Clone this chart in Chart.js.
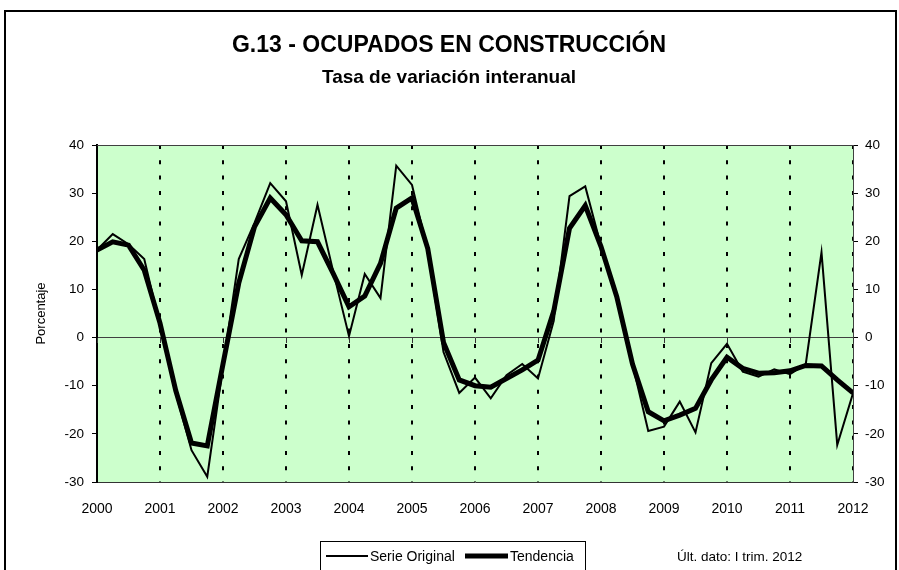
<!DOCTYPE html>
<html>
<head>
<meta charset="utf-8">
<script src="https://cdn.jsdelivr.net/npm/chart.js@4.4.1/dist/chart.umd.min.js"></script>
<style>
  html, body { margin: 0; padding: 0; background: #fff; }
  #wrap { position: relative; width: 899px; height: 570px; }
</style>
</head>
<body>
<div id="wrap"><canvas id="c" width="899" height="570"></canvas></div>
<script>
// ---- data ----
const yearLabels = ["2000","2001","2002","2003","2004","2005","2006","2007","2008","2009","2010","2011","2012"];
const startYear = 2000;
const quartersPerYear = 4;
const serieOriginal = [
  18.2, 21.5, 19.4, 16.3,
  2.5, -11.5, -23.4, -28.9,
  -6.0, 16.3, 23.8, 32.1,
  28.3, 13.0, 27.6, 13.7,
  0.3, 13.2, 8.2, 35.7,
  31.7, 18.0, -3.0, -11.5,
  -8.3, -12.6, -7.8, -5.5,
  -8.5, 3.5, 29.4, 31.4,
  19.0, 8.0, -5.5, -19.4,
  -18.5, -13.3, -19.7, -5.3,
  -1.3, -7.1, -8.1, -6.6,
  -7.6, -5.5, 17.7, -22.3,
  -11.6
];
const tendencia = [
  18.2, 19.9, 19.2, 14.0,
  3.0, -11.0, -21.9, -22.5,
  -5.5, 11.3, 23.0, 29.0,
  25.5, 20.1, 19.9, 13.3,
  6.4, 8.6, 15.4, 26.9,
  29.0, 18.5, -1.0, -8.8,
  -10.0, -10.3, -8.5, -6.7,
  -4.7, 5.5, 22.7, 27.4,
  18.9, 8.5, -5.5, -15.4,
  -17.3, -16.1, -14.7, -8.8,
  -4.1, -6.4, -7.4, -7.3,
  -6.9, -5.8, -5.9, -8.8,
  -11.5
];
const yMin = -30, yMax = 40, yStep = 10;
const titleText = "G.13 - OCUPADOS EN CONSTRUCCIÓN";
const subtitleText = "Tasa de variación interanual";
const yTitle = "Porcentaje";
const legendLabels = ["Serie Original", "Tendencia"];
const noteText = "Últ. dato: I trim. 2012";

const toPoints = arr => arr.map((v, i) => ({ x: startYear + i / quartersPerYear, y: v }));
const FONT = "'Liberation Sans', Arial, sans-serif";

const decor = {
  id: 'decor',
  beforeDraw(chart) {
    const ctx = chart.ctx, a = chart.chartArea;
    ctx.save();
    ctx.fillStyle = '#fff';
    ctx.fillRect(0, 0, chart.width, chart.height);
    ctx.strokeStyle = '#000';
    ctx.lineWidth = 2;
    ctx.strokeRect(5, 11, 891, 600);
    ctx.fillStyle = '#CCFFCC';
    ctx.fillRect(a.left, a.top, a.right - a.left, a.bottom - a.top);
    ctx.restore();
  },
  afterDatasetsDraw(chart) {
    const ctx = chart.ctx, a = chart.chartArea;
    const xs = chart.scales.x, ys = chart.scales.y;
    ctx.save();
    ctx.strokeStyle = '#404040';
    ctx.lineWidth = 1;
    ctx.beginPath();
    ctx.moveTo(a.left, a.top + 0.5); ctx.lineTo(a.right, a.top + 0.5);
    ctx.stroke();
    const y0 = Math.round(ys.getPixelForValue(0));
    ctx.strokeStyle = '#333';
    yearLabels.forEach((lab, i) => {
      const x = Math.round(xs.getPixelForValue(startYear + i)) + 0.5;
      ctx.beginPath(); ctx.moveTo(x, y0); ctx.lineTo(x, y0 + 5); ctx.stroke();
    });
    ctx.restore();
  },
  afterDraw(chart) {
    const ctx = chart.ctx;
    ctx.save();
    ctx.fillStyle = '#000';
    ctx.textAlign = 'center';
    ctx.textBaseline = 'middle';
    ctx.font = 'bold 23px ' + FONT;
    ctx.fillText(titleText, 449, 46);
    ctx.font = 'bold 19px ' + FONT;
    ctx.fillText(subtitleText, 449, 78);
    ctx.strokeStyle = '#000';
    ctx.lineWidth = 1;
    ctx.strokeRect(320.5, 541.5, 265, 40);
    const ly = 556;
    ctx.lineWidth = 2;
    ctx.beginPath(); ctx.moveTo(326, ly); ctx.lineTo(368, ly); ctx.stroke();
    ctx.lineWidth = 5;
    ctx.beginPath(); ctx.moveTo(465, ly); ctx.lineTo(508, ly); ctx.stroke();
    ctx.font = '14px ' + FONT;
    ctx.textAlign = 'left';
    ctx.fillText(legendLabels[0], 370, ly + 1);
    ctx.fillText(legendLabels[1], 510, ly + 1);
    ctx.font = '13.5px ' + FONT;
    ctx.fillText(noteText, 677, ly + 1);
    ctx.restore();
  }
};

new Chart(document.getElementById('c'), {
  type: 'line',
  data: {
    datasets: [
      { label: legendLabels[0], data: toPoints(serieOriginal), borderColor: '#000', borderWidth: 2,
        pointRadius: 0, tension: 0, fill: false, order: 2 },
      { label: legendLabels[1], data: toPoints(tendencia), borderColor: '#000', borderWidth: 5,
        pointRadius: 0, tension: 0, fill: false, order: 1, borderJoinStyle: 'miter' }
    ]
  },
  options: {
    responsive: false,
    animation: false,
    devicePixelRatio: 1,
    layout: { padding: { top: 145, left: 0, right: 0, bottom: 0 } },
    plugins: { legend: { display: false }, title: { display: false }, tooltip: { enabled: false } },
    scales: {
      x: {
        type: 'linear', min: startYear, max: startYear + yearLabels.length - 1,
        afterFit: s => { s.height = 88; },
        afterBuildTicks: s => { s.ticks = yearLabels.map((l, i) => ({ value: startYear + i })); },
        ticks: { callback: (v) => yearLabels[Math.round(v - startYear)], autoSkip: false, maxRotation: 0,
                 color: '#000', font: { family: FONT, size: 14 }, padding: 19 },
        grid: { drawTicks: false, lineWidth: 2,
                color: c => (c.tick && c.tick.value === startYear) ? 'rgba(0,0,0,0)' : '#000' },
        border: { display: true, color: '#333', width: 1, dash: [4, 11.3] }
      },
      y: {
        position: 'left', min: yMin, max: yMax,
        afterFit: s => { s.width = 97; },
        ticks: { stepSize: yStep, color: '#000', font: { family: FONT, size: 13.5 }, padding: 8 },
        grid: { tickLength: 5, tickColor: '#000',
                color: c => (c.tick && c.tick.value === 0) ? '#404040' : 'rgba(0,0,0,0)' },
        border: { color: '#000', width: 2 },
        title: { display: true, text: yTitle, color: '#000', font: { family: FONT, size: 13 }, padding: { top: 34, bottom: 0 } }
      },
      y2: {
        position: 'right', min: yMin, max: yMax,
        afterFit: s => { s.width = 46; },
        ticks: { stepSize: yStep, color: '#000', font: { family: FONT, size: 13.5 }, padding: 7 },
        grid: { drawOnChartArea: false, tickLength: 5, tickColor: '#000' },
        border: { color: '#404040', width: 1 }
      }
    }
  },
  plugins: [decor]
});
</script>
</body>
</html>
